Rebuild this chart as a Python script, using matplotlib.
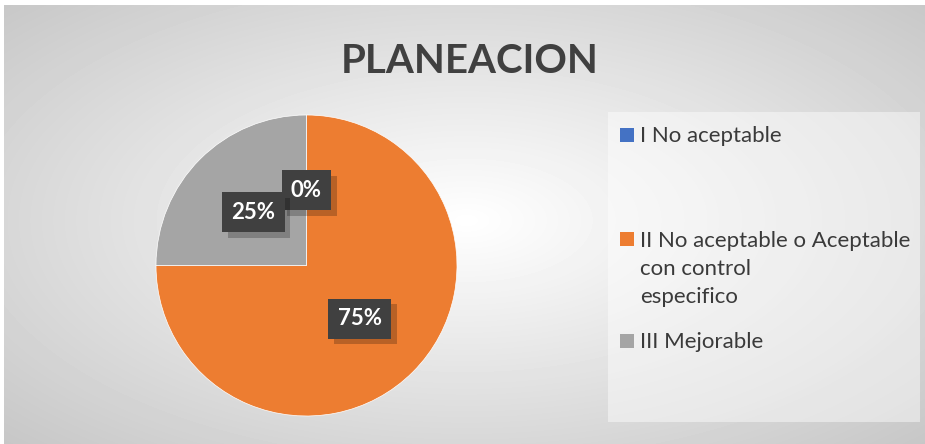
import numpy as np
import matplotlib
matplotlib.use('Agg')
import matplotlib.pyplot as plt
import matplotlib.patheffects as pe
from matplotlib.patches import Rectangle

plt.rcParams['font.family'] = ['Lato', 'DejaVu Sans']

# data
title = 'PLANEACION'
categories = ['I No aceptable',
              'II No aceptable o Aceptable\ncon control\nespecifico',
              'III Mejorable']
values = [0, 75, 25]
colors = ['#4472C4', '#ED7D31', '#A5A5A5']

W, H = 925, 444
fig = plt.figure(figsize=(W / 100, H / 100), dpi=100)
fig.patch.set_facecolor('white')

# radial gradient background
bg = fig.add_axes([4 / W, 0, (W - 4) / W, (H - 5) / H])
yy, xx = np.mgrid[0:439, 0:921]
r = np.sqrt(((xx - 462) / 470.0) ** 2 + ((yy - 215) / 230.0) ** 2)
shade = np.clip(1.0 - 0.16 * r, 0, 1)
bg.imshow(shade, cmap='gray', vmin=0, vmax=1, aspect='auto', interpolation='bilinear')
bg.axis('off')

# title
fig.text(470 / W, (H - 73) / H, title, ha='center', va='baseline',
         fontsize=29, fontweight='bold', color='#404040')

# pie
ax = fig.add_axes([156 / W, 28 / H, 301 / W, 301 / H])
wedges, texts, autotexts = ax.pie(values, colors=colors, startangle=90, counterclock=False,
                                  autopct='%1.0f%%', pctdistance=0.5, radius=1,
                                  wedgeprops=dict(edgecolor='white', linewidth=0.5))
ax.set_xlim(-1, 1)
ax.set_ylim(-1, 1)
ax.axis('off')
for t in autotexts:
    t.set_color('white')
    t.set_fontsize(16)
    t.set_fontweight('bold')
    t.set_bbox(dict(boxstyle='square,pad=0.42', facecolor='#404040', edgecolor='none'))
    t.get_bbox_patch().set_path_effects([
        pe.SimplePatchShadow(offset=(4, -4), shadow_rgbFace='black', alpha=0.22),
        pe.Normal()])

# legend panel
fig.add_artist(Rectangle((608 / W, (H - 422) / H), 312 / W, 310 / H,
                         transform=fig.transFigure, facecolor='white', alpha=0.45,
                         edgecolor='none'))
baselines = [142, 246, 348]
line_step = 28.5
for lab, col, yb in zip(categories, colors, baselines):
    fig.add_artist(Rectangle((620 / W, (H - yb) / H), 14 / W, 14 / H,
                             transform=fig.transFigure, facecolor=col, edgecolor='none'))
    nlines = lab.count('\n') + 1
    last = yb + (nlines - 1) * line_step
    fig.text(640 / W, (H - last) / H, lab, ha='left', va='baseline', fontsize=16,
             color='#3a3a3a', linespacing=1.5)

fig.savefig('out.png', dpi=100)
